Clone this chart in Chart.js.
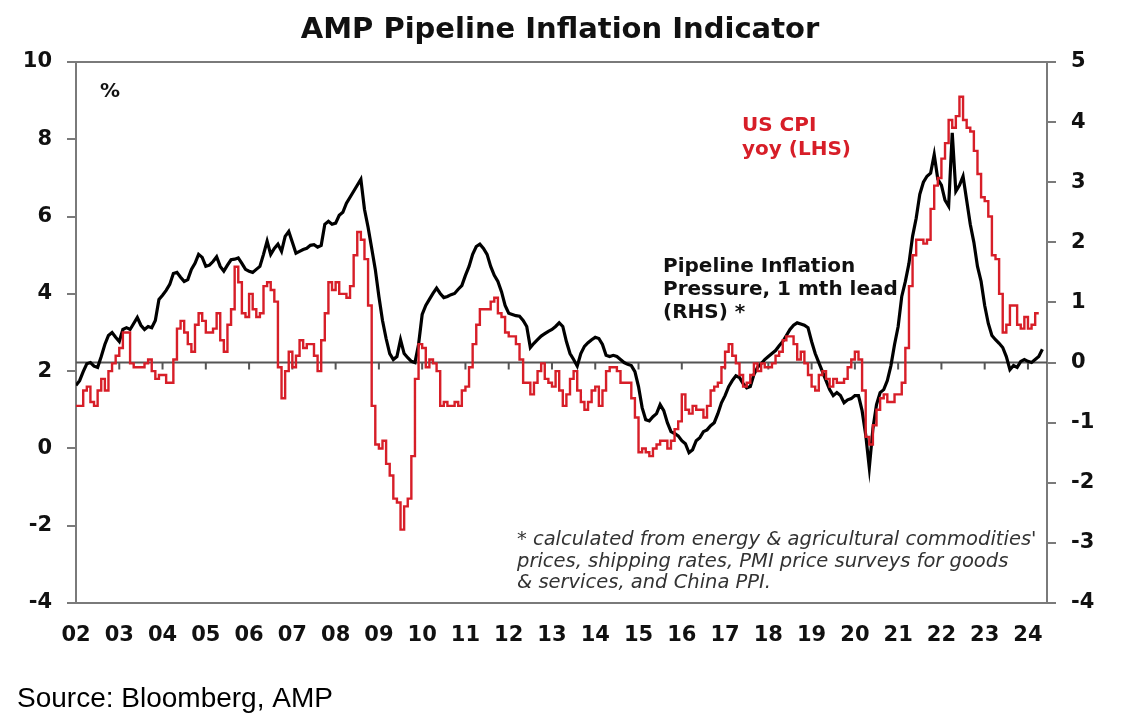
<!DOCTYPE html>
<html>
<head>
<meta charset="utf-8">
<title>AMP Pipeline Inflation Indicator</title>
<script src="https://cdn.jsdelivr.net/npm/chart.js@4.4.1/dist/chart.umd.min.js"></script>
<style>
    html, body { margin: 0; padding: 0; background: #fff; }
    #wrap { width: 1127px; height: 726px; position: relative; }
</style>
</head>
<body>
<div id="wrap"><canvas id="pipelineChart"></canvas></div>
<script>
// monthly series, first value = Jan 2002
const startYear = 2002;

// US CPI yoy %, left axis
const cpiYoy = [
    1.1, 1.1, 1.5, 1.6, 1.2, 1.1, 1.5, 1.8, 1.5, 2.0, 2.2, 2.4,        // 2002
    2.6, 3.0, 3.0, 2.2, 2.1, 2.1, 2.1, 2.2, 2.3, 2.0, 1.8, 1.9,        // 2003
    1.9, 1.7, 1.7, 2.3, 3.1, 3.3, 3.0, 2.7, 2.5, 3.2, 3.5, 3.3,        // 2004
    3.0, 3.0, 3.1, 3.5, 2.8, 2.5, 3.2, 3.6, 4.7, 4.3, 3.5, 3.4,        // 2005
    4.0, 3.6, 3.4, 3.5, 4.2, 4.3, 4.1, 3.8, 2.1, 1.3, 2.0, 2.5,        // 2006
    2.1, 2.4, 2.8, 2.6, 2.7, 2.7, 2.4, 2.0, 2.8, 3.5, 4.3, 4.1,        // 2007
    4.3, 4.0, 4.0, 3.9, 4.2, 5.0, 5.6, 5.4, 4.9, 3.7, 1.1, 0.1,        // 2008
    0.0, 0.2, -0.4, -0.7, -1.3, -1.4, -2.1, -1.5, -1.3, -0.2, 1.8, 2.7, // 2009
    2.6, 2.1, 2.3, 2.2, 2.0, 1.1, 1.2, 1.1, 1.1, 1.2, 1.1, 1.5,        // 2010
    1.6, 2.1, 2.7, 3.2, 3.6, 3.6, 3.6, 3.8, 3.9, 3.5, 3.4, 3.0,        // 2011
    2.9, 2.9, 2.7, 2.3, 1.7, 1.7, 1.4, 1.7, 2.0, 2.2, 1.8, 1.7,        // 2012
    1.6, 2.0, 1.5, 1.1, 1.4, 1.8, 2.0, 1.5, 1.2, 1.0, 1.2, 1.5,        // 2013
    1.6, 1.1, 1.5, 2.0, 2.1, 2.1, 2.0, 1.7, 1.7, 1.7, 1.3, 0.8,        // 2014
    -0.1, 0.0, -0.1, -0.2, 0.0, 0.1, 0.2, 0.2, 0.0, 0.2, 0.5, 0.7,     // 2015
    1.4, 1.0, 0.9, 1.1, 1.0, 1.0, 0.8, 1.1, 1.5, 1.6, 1.7, 2.1,        // 2016
    2.5, 2.7, 2.4, 2.2, 1.9, 1.6, 1.7, 1.9, 2.2, 2.0, 2.2, 2.1,        // 2017
    2.1, 2.2, 2.4, 2.5, 2.8, 2.9, 2.9, 2.7, 2.3, 2.5, 2.2, 1.9,        // 2018
    1.6, 1.5, 1.9, 2.0, 1.8, 1.6, 1.8, 1.7, 1.7, 1.8, 2.1, 2.3,        // 2019
    2.5, 2.3, 1.5, 0.3, 0.1, 0.6, 1.0, 1.3, 1.4, 1.2, 1.2, 1.4,        // 2020
    1.4, 1.7, 2.6, 4.2, 5.0, 5.4, 5.4, 5.3, 5.4, 6.2, 6.8, 7.0,        // 2021
    7.5, 7.9, 8.5, 8.3, 8.6, 9.1, 8.5, 8.3, 8.2, 7.7, 7.1, 6.5,        // 2022
    6.4, 6.0, 5.0, 4.9, 4.0, 3.0, 3.2, 3.7, 3.7, 3.2, 3.1, 3.4,        // 2023
    3.1, 3.2, 3.5, 3.5                                                 // 2024
];

// Pipeline inflation pressure, 1 mth lead, right axis
const pipeline = [
    -0.38, -0.3, -0.15, -0.02, 0.0, -0.06, -0.08, 0.1, 0.3, 0.45, 0.5, 0.42,   // 2002
    0.35, 0.55, 0.58, 0.55, 0.65, 0.75, 0.62, 0.55, 0.6, 0.58, 0.7, 1.05,      // 2003
    1.12, 1.2, 1.3, 1.48, 1.5, 1.42, 1.35, 1.38, 1.55, 1.65, 1.8, 1.75,        // 2004
    1.6, 1.62, 1.68, 1.76, 1.6, 1.52, 1.62, 1.71, 1.72, 1.74, 1.65, 1.55,      // 2005
    1.52, 1.5, 1.55, 1.6, 1.8, 2.02, 1.8, 1.9, 1.97, 1.85, 2.1, 2.18,          // 2006
    2.0, 1.82, 1.85, 1.88, 1.9, 1.95, 1.96, 1.92, 1.95, 2.3, 2.35, 2.3,        // 2007
    2.32, 2.45, 2.5, 2.65, 2.75, 2.85, 2.95, 3.05, 2.55, 2.25, 1.9, 1.55,      // 2008
    1.1, 0.7, 0.4, 0.15, 0.05, 0.1, 0.38, 0.15, 0.08, 0.02, 0.0, 0.3,          // 2009
    0.8, 0.95, 1.05, 1.15, 1.24, 1.15, 1.08, 1.1, 1.13, 1.15, 1.22, 1.28,      // 2010
    1.45, 1.6, 1.8, 1.93, 1.97, 1.9, 1.8, 1.6, 1.45, 1.35, 1.18, 0.95,         // 2011
    0.82, 0.8, 0.78, 0.77, 0.7, 0.6, 0.25, 0.32, 0.38, 0.44, 0.48, 0.52,       // 2012
    0.55, 0.6, 0.66, 0.6, 0.35, 0.15, 0.05, -0.06, 0.15, 0.27, 0.33, 0.38,     // 2013
    0.42, 0.4, 0.3, 0.12, 0.1, 0.12, 0.1, 0.05, 0.0, -0.03, -0.05, -0.15,      // 2014
    -0.4, -0.75, -0.95, -0.97, -0.9, -0.85, -0.7, -0.8, -1.0, -1.15, -1.18, -1.22, // 2015
    -1.3, -1.35, -1.5, -1.45, -1.3, -1.25, -1.15, -1.12, -1.05, -1.0, -0.85, -0.67, // 2016
    -0.55, -0.4, -0.3, -0.22, -0.25, -0.35, -0.42, -0.4, -0.2, -0.08, -0.02, 0.05, // 2017
    0.1, 0.15, 0.2, 0.28, 0.35, 0.45, 0.55, 0.62, 0.66, 0.64, 0.62, 0.58,      // 2018
    0.35, 0.15, 0.0, -0.15, -0.3, -0.45, -0.55, -0.5, -0.55, -0.67, -0.62, -0.6, // 2019
    -0.55, -0.55, -0.8, -1.2, -1.75, -1.1, -0.7, -0.5, -0.45, -0.3, -0.05, 0.3, // 2020
    0.6, 1.1, 1.35, 1.65, 2.1, 2.4, 2.8, 3.0, 3.1, 3.15, 3.46, 3.05,           // 2021
    2.95, 2.7, 2.6, 3.82, 2.85, 2.95, 3.1, 2.7, 2.3, 2.0, 1.6, 1.35,           // 2022
    0.95, 0.65, 0.45, 0.38, 0.32, 0.25, 0.1, -0.12, -0.05, -0.08, 0.02, 0.05,  // 2023
    0.02, 0.0, 0.05, 0.1, 0.22                                                 // 2024
];

// axis ranges / ticks
const xRange = [2002, 2024.44];
const leftTicks = { min: -4, max: 10, step: 2 };
const rightTicks = { min: -4, max: 5, step: 1 };

const RED = '#d71e28';
const AXIS_GREY = '#7a7a7a';
const TICK_FONT = { family: '"DejaVu Sans"', size: 21, weight: 'bold' };

const toPoints = arr => arr.map((v, i) => ({ x: startYear + i / 12, y: v }));

// zero line (RHS) with small year ticks, frame top, and all the text
const decorations = {
    id: 'decorations',
    beforeDatasetsDraw(chart) {
        const { ctx, chartArea: a, scales } = chart;
        const y0 = scales.yR.getPixelForValue(0);
        ctx.save();
        ctx.strokeStyle = '#555';
        ctx.lineWidth = 2;
        ctx.beginPath();
        ctx.moveTo(a.left, y0);
        ctx.lineTo(a.right, y0);
        for (let yr = Math.ceil(xRange[0]) + 1; yr <= xRange[1]; yr++) {
            const px = scales.x.getPixelForValue(yr);
            ctx.moveTo(px, y0);
            ctx.lineTo(px, y0 + 7);
        }
        ctx.stroke();

        // top edge of the frame
        ctx.strokeStyle = AXIS_GREY;
        ctx.beginPath();
        ctx.moveTo(a.left, a.top);
        ctx.lineTo(a.right, a.top);
        ctx.stroke();
        ctx.restore();
    },
    afterDraw(chart) {
        const { ctx } = chart;
        ctx.save();
        ctx.textBaseline = 'alphabetic';

        ctx.fillStyle = '#111';
        ctx.textAlign = 'center';
        ctx.font = 'bold 29px "DejaVu Sans"';
        ctx.fillText('AMP Pipeline Inflation Indicator', 560, 38);

        ctx.textAlign = 'left';
        ctx.font = 'bold 20px "DejaVu Sans"';
        ctx.fillText('%', 100, 97);

        ctx.fillText('Pipeline Inflation', 663, 272);
        ctx.fillText('Pressure, 1 mth lead', 663, 295);
        ctx.fillText('(RHS) *', 663, 318);

        ctx.fillStyle = RED;
        ctx.fillText('US CPI', 742, 131);
        ctx.fillText('yoy (LHS)', 742, 155);

        ctx.fillStyle = '#333';
        ctx.font = 'italic 19.5px "DejaVu Sans"';
        ctx.fillText("* calculated from energy & agricultural commodities'", 517, 545);
        ctx.fillText('prices, shipping rates, PMI price surveys for goods', 517, 567);
        ctx.fillText('& services, and China PPI.', 517, 588);

        ctx.fillStyle = '#000';
        ctx.font = '28px "Liberation Sans"';
        ctx.fillText('Source: Bloomberg, AMP', 17, 707);
        ctx.restore();
    }
};

const ctx = document.getElementById('pipelineChart').getContext('2d');
const pipelineChart = new Chart(ctx, {
    type: 'line',
    data: {
        datasets: [
            {
                label: 'US CPI yoy (LHS)',
                data: toPoints(cpiYoy),
                yAxisID: 'yL',
                borderColor: RED,
                borderWidth: 2.4,
                stepped: true,
                pointRadius: 0,
                fill: false
            },
            {
                label: 'Pipeline Inflation Pressure, 1 mth lead (RHS)',
                data: toPoints(pipeline),
                yAxisID: 'yR',
                borderColor: '#000',
                borderWidth: 3.2,
                pointRadius: 0,
                tension: 0,
                fill: false
            }
        ]
    },
    options: {
        responsive: true,
        maintainAspectRatio: false,
        animation: false,
        layout: { padding: { top: 62, left: 0, right: 0, bottom: 0 } },
        plugins: {
            legend: { display: false },
            tooltip: { enabled: false },
            title: { display: false }
        },
        scales: {
            x: {
                type: 'linear',
                min: xRange[0],
                max: xRange[1],
                afterFit: s => { s.height = 123; },
                grid: { display: false },
                border: { display: true, color: AXIS_GREY, width: 2 },
                ticks: {
                    stepSize: 1,
                    includeBounds: false,
                    autoSkip: false,
                    maxRotation: 0,
                    padding: 12,
                    color: '#111',
                    font: TICK_FONT,
                    callback: v => Number.isInteger(v) ? String(v).slice(2) : ''
                }
            },
            yL: {
                position: 'left',
                min: leftTicks.min,
                max: leftTicks.max,
                afterFit: s => { s.width = 76; },
                grid: { drawOnChartArea: false, drawTicks: true, tickLength: 9, color: AXIS_GREY, lineWidth: 2 },
                border: { display: true, color: AXIS_GREY, width: 2 },
                ticks: { stepSize: leftTicks.step, padding: 15, color: '#111', font: TICK_FONT }
            },
            yR: {
                position: 'right',
                min: rightTicks.min,
                max: rightTicks.max,
                afterFit: s => { s.width = 80; },
                grid: { drawOnChartArea: false, drawTicks: true, tickLength: 9, color: AXIS_GREY, lineWidth: 2 },
                border: { display: true, color: AXIS_GREY, width: 2 },
                ticks: { stepSize: rightTicks.step, padding: 15, color: '#111', font: TICK_FONT }
            }
        }
    },
    plugins: [decorations]
});
</script>
</body>
</html>
